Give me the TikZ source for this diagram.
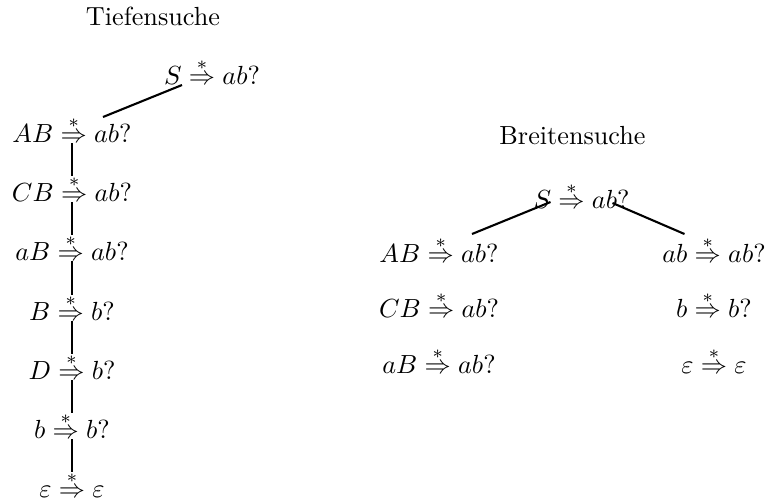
\documentclass[tikz,border=0pt]{standalone}
\usepackage{amsmath}
\usetikzlibrary{calc}
\begin{document}
\begin{tikzpicture}[x=0.3817pt,y=-0.3817pt,
  lbl/.style={anchor=base,inner sep=0pt},
  st/.style={anchor=base,inner sep=0pt},
  edgeline/.style={thick}]
\useasboundingbox (0,0) rectangle (767,500);
% titles
\node[lbl] (tt) at (153,25) {Tiefensuche};
\node[lbl] (bt) at (572.5,144) {Breitensuche};
% Tiefensuche
\node[st] (T0) at (212,84) {$S \overset{*}{\Rightarrow} ab?$};
\node[st] (T1) at (72,142) {$AB \overset{*}{\Rightarrow} ab?$};
\node[st] (T2) at (72,201) {$CB \overset{*}{\Rightarrow} ab?$};
\node[st] (T3) at (72,260) {$aB \overset{*}{\Rightarrow} ab?$};
\node[st] (T4) at (72,320) {$B \overset{*}{\Rightarrow} b?$};
\node[st] (T5) at (72,379) {$D \overset{*}{\Rightarrow} b?$};
\node[st] (T6) at (72,438) {$b \overset{*}{\Rightarrow} b?$};
\node[st] (T7) at (72,497) {$\varepsilon \overset{*}{\Rightarrow} \varepsilon$};
\draw[edgeline] ($(T0.base)+(-30,1)$) -- ($(T1.base)+(31,-25)$);
\foreach \p/\c in {T1/T2,T2/T3,T3/T4,T4/T5,T5/T6,T6/T7}{
  \draw[edgeline] ($(\p.base)+(0,1)$) -- ($(\c.base)+(0,-25)$);
}
% Breitensuche
\node[st] (B0) at (581.5,208) {$S \overset{*}{\Rightarrow} ab?$};
\node[st] (BL1) at (439,262) {$AB \overset{*}{\Rightarrow} ab?$};
\node[st] (BL2) at (439,317) {$CB \overset{*}{\Rightarrow} ab?$};
\node[st] (BL3) at (439,373) {$aB \overset{*}{\Rightarrow} ab?$};
\node[st] (BR1) at (714,262) {$ab \overset{*}{\Rightarrow} ab?$};
\node[st] (BR2) at (714,317) {$b \overset{*}{\Rightarrow} b?$};
\node[st] (BR3) at (714,373) {$\varepsilon \overset{*}{\Rightarrow} \varepsilon$};
\draw[edgeline] ($(B0.base)+(-31,-6)$) -- ($(BL1.base)+(33,-28)$);
\draw[edgeline] ($(B0.base)+(31,-5)$) -- ($(BR1.base)+(-29.5,-28)$);
\end{tikzpicture}
\end{document}
